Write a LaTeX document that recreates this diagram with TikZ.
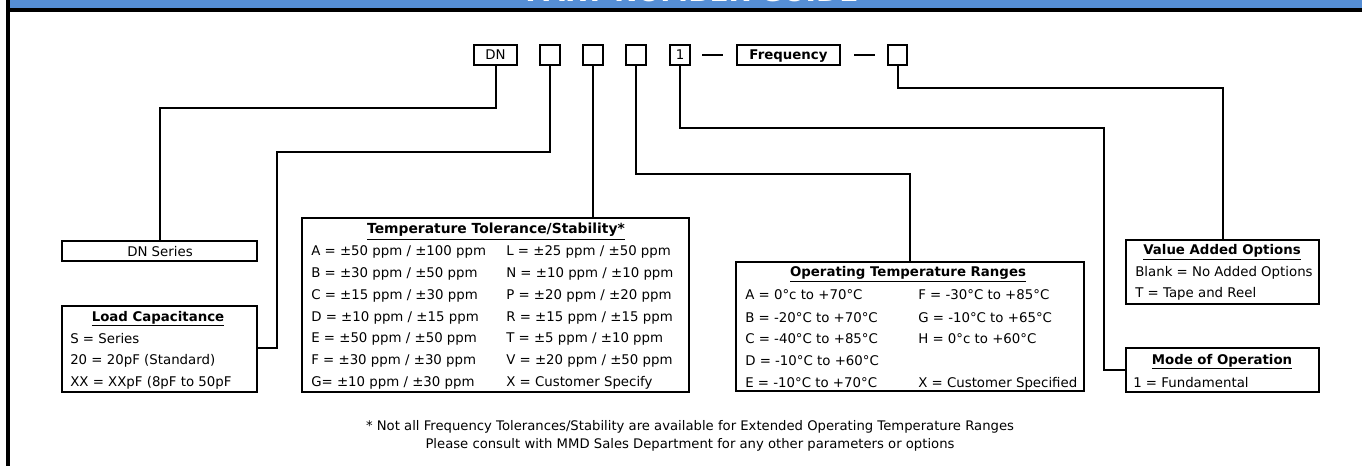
\documentclass[tikz,border=0pt]{standalone}
\usepackage{fontspec}
\setmainfont{DejaVu Sans}
\usetikzlibrary{fit}
\definecolor{hdrblue}{RGB}{85,142,213}
\begin{document}
\begin{tikzpicture}[x=0.75pt,y=-0.75pt,
  box/.style={draw=black, line width=2pt, inner sep=0pt},
  wire/.style={line width=1.5pt},
  txt/.style={inner sep=0pt, anchor=base west, font=\fontsize{10}{12}\selectfont},
  ttl/.style={inner sep=0pt, anchor=base, font=\fontsize{10}{12}\selectfont\bfseries},
  foot/.style={inner sep=0pt, anchor=base, font=\fontsize{9.9}{12}\selectfont},
]
\useasboundingbox (0,0) rectangle (1362,466);
% header
\fill[hdrblue] (10,0) rectangle (1362,8);
\node[anchor=base, inner sep=0pt, text=white, font=\fontsize{21}{24}\selectfont\bfseries] (hdr) at (692,1.5) {PART NUMBER GUIDE};
\fill[black] (6,8) rectangle (1362,12);
\fill[black] (6,0) rectangle (10,466);

% top code boxes
\node[box, fit={(474,45) (517,65)}] (dn) {};
\node[box, fit={(540,45) (560,65)}] (b2) {};
\node[box, fit={(583,45) (603,65)}] (b3) {};
\node[box, fit={(626,45) (646,65)}] (b4) {};
\node[box, fit={(670,45) (690,65)}] (b1) {};
\node[box, fit={(737,45) (840,65)}] (freq) {};
\node[box, fit={(888,45) (907,65)}] (b5) {};
\node[txt, anchor=base] (dntxt) at ([yshift=-3.75pt]dn.center) {DN};
\node[txt, anchor=base] (b1txt) at ([yshift=-3.75pt]b1.center) {1};
\node[ttl, anchor=base] (freqtxt) at ([yshift=-3.75pt]freq.center) {Frequency};
\draw[wire, shorten <=8.25pt, shorten >=9.75pt] (b1.east) -- (freq.west);
\draw[wire, shorten <=9.75pt, shorten >=9pt] (freq.east) -- (b5.west);

% description boxes
\node[box, fit={(62,241) (257,261)}] (dnseries) {};
\node[box, fit={(62,306) (257,392)}] (load) {};
\node[box, fit={(302,218) (689,392)}] (tt) {};
\node[box, fit={(736,262) (1084,391)}] (optemp) {};
\node[box, fit={(1126,240) (1319,304)}] (va) {};
\node[box, fit={(1126,348) (1319,392)}] (mode) {};

% connectors
\coordinate (k1) at (277,348);
\draw[wire] (dn.south) -- ++(0,42) -| (dnseries.north);
\draw[wire] (b2.south) |- (277,152) -- (k1) -- (load.east |- k1);
\draw[wire] (b3.south) -- (b3.south |- tt.north);
\draw[wire] (b4.south) -- ++(0,108) -| (optemp.north);
\draw[wire] (b1.south) |- (1104,128) |- (mode.west);
\draw[wire] (b5.south) -- ++(0,22) -| (va.north);

% DN series
\node[txt, anchor=base] (t-dn) at (160,257) {DN Series};

% load capacitance
\node[ttl] (t-load) at (158,321) {\underline{Load Capacitance}};
\node[txt] (l1) at (70,343) {S = Series};
\node[txt] (l2) at (70,364) {20 = 20pF (Standard)};
\node[txt] (l3) at (70,386) {XX = XXpF (8pF to 50pF};

% temperature tolerance
\node[ttl, font=\fontsize{10.4}{12}\selectfont\bfseries] (t-tt) at (496,234) {\underline{Temperature Tolerance/Stability*}};
\node[txt] (ta) at (311,256) {A = ±50 ppm / ±100 ppm};
\node[txt] (tb) at (311,277.7) {B = ±30 ppm / ±50 ppm};
\node[txt] (tc) at (311,299.3) {C = ±15 ppm / ±30 ppm};
\node[txt] (td) at (311,321) {D = ±10 ppm / ±15 ppm};
\node[txt] (te) at (311,342.7) {E = ±50 ppm / ±50 ppm};
\node[txt] (tf) at (311,364.3) {F = ±30 ppm / ±30 ppm};
\node[txt] (tg) at (311,386) {G= ±10 ppm / ±30 ppm};
\node[txt] (tl) at (506,256) {L = ±25 ppm / ±50 ppm};
\node[txt] (tn) at (506,277.7) {N = ±10 ppm / ±10 ppm};
\node[txt] (tp) at (506,299.3) {P = ±20 ppm / ±20 ppm};
\node[txt] (tr) at (506,321) {R = ±15 ppm / ±15 ppm};
\node[txt] (tt5) at (506,342.7) {T = ±5 ppm / ±10 ppm};
\node[txt] (tv) at (506,364.3) {V = ±20 ppm / ±50 ppm};
\node[txt] (tx) at (506,386) {X = Customer Specify};

% operating temperature
\node[ttl] (t-op) at (908,277) {\underline{Operating Temperature Ranges}};
\node[txt] (oa) at (745,300) {A = 0°c to +70°C};
\node[txt] (ob) at (745,322) {B = -20°C to +70°C};
\node[txt] (oc) at (745,343.5) {C = -40°C to +85°C};
\node[txt] (od) at (745,365) {D = -10°C to +60°C};
\node[txt] (oe) at (745,387) {E = -10°C to +70°C};
\node[txt] (of) at (918,300) {F = -30°C to +85°C};
\node[txt] (og) at (918,322) {G = -10°C to +65°C};
\node[txt] (oh) at (918,343.5) {H = 0°c to +60°C};
\node[txt] (ox) at (918,387) {X = Customer Specified};

% value added
\node[ttl] (t-va) at (1222,255) {\underline{Value Added Options}};
\node[txt] (v1) at (1135,277) {Blank = No Added Options};
\node[txt] (v2) at (1135,298) {T = Tape and Reel};

% mode
\node[ttl] (t-mode) at (1222,364) {\underline{Mode of Operation}};
\node[txt] (m1) at (1133,387) {1 = Fundamental};

% footer
\node[foot] (f1) at (690,430.5) {* Not all Frequency Tolerances/Stability are available for Extended Operating Temperature Ranges};
\node[foot] (f2) at (690,448) {Please consult with MMD Sales Department for any other parameters or options};
\end{tikzpicture}
\end{document}
